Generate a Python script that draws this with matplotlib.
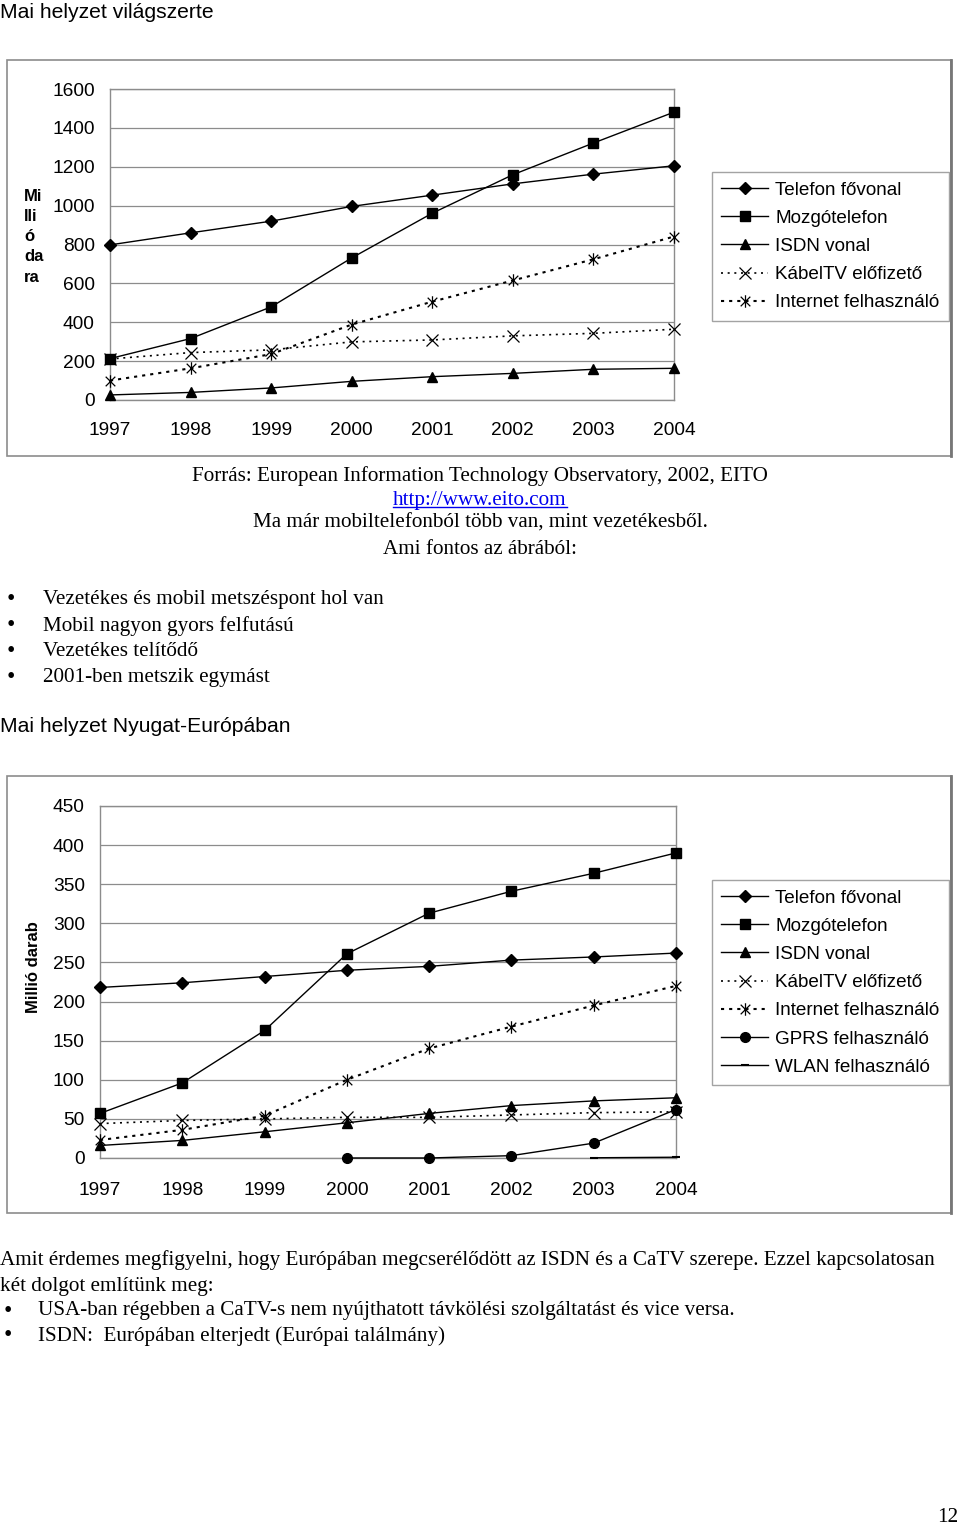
import matplotlib
matplotlib.use("Agg")
import matplotlib.pyplot as plt
import numpy as np
from matplotlib.path import Path
from matplotlib.patches import Rectangle
from matplotlib.lines import Line2D

W, H = 960, 1529
def fx(x): return x / W
def fy(y): return 1 - y / H

years = ["1997", "1998", "1999", "2000", "2001", "2002", "2003", "2004"]

# Chart 1 - world
w_telefon = [798, 860, 920, 996, 1054, 1112, 1162, 1205]
w_mobil = [213, 316, 479, 731, 961, 1159, 1322, 1481]
w_isdn = [26, 39, 62, 96, 120, 137, 158, 163]
w_kabel = [211, 244, 258, 299, 309, 330, 343, 364]
w_internet = [100, 163, 236, 388, 506, 615, 724, 841]

# Chart 2 - Western Europe
e_telefon = [218, 224, 232, 240, 245, 253, 257, 262]
e_mobil = [57, 96, 163, 261, 313, 341, 364, 390]
e_isdn = [16, 22.5, 33.5, 45, 57, 67, 73, 77]
e_kabel = [44, 48, 50, 52, 52, 55, 58, 59]
e_internet = [23, 36, 54, 100, 140, 168, 195, 220]
e_gprs = [np.nan, np.nan, np.nan, 0, 0, 3, 19, 62]
e_wlan = [np.nan, np.nan, np.nan, np.nan, np.nan, np.nan, 0.3, 1]

labels = ["Telefon fővonal", "Mozgótelefon", "ISDN vonal", "KábelTV előfizető",
          "Internet felhasználó", "GPRS felhasználó", "WLAN felhasználó"]

SANS = ["Liberation Sans", "DejaVu Sans"]
SERIF = ["Liberation Serif", "DejaVu Serif"]
GRAY = "#8c8c8c"
BODY = 15.2

ast = Path([(-1, -1), (1, 1), (-1, 1), (1, -1), (0, -1.3), (0, 1.3)],
           [Path.MOVETO, Path.LINETO, Path.MOVETO, Path.LINETO, Path.MOVETO, Path.LINETO])

fig = plt.figure(figsize=(W / 100, H / 100), dpi=100)
fig.patch.set_facecolor("white")

# frames
for (x0, y0, x1, y1) in [(7, 60, 951, 456), (7, 776, 951, 1213)]:
    fig.add_artist(Rectangle((fx(x0), fy(y1)), fx(x1) - fx(x0), fy(y0) - fy(y1),
                             transform=fig.transFigure, fill=False, edgecolor=GRAY, lw=1.2))
    fig.add_artist(Line2D([fx(x1), fx(x1)], [fy(y1), fy(y0)], transform=fig.transFigure,
                          color="#777777", lw=2.0))

def style_axes(ax, ymax, step, xpad):
    ax.set_xlim(0, 7)
    ax.set_ylim(0, ymax)
    ax.set_xticks(range(8))
    ax.set_xticklabels(years)
    ax.set_yticks(np.arange(0, ymax + 1, step))
    ax.set_yticklabels([str(int(v)) for v in np.arange(0, ymax + 1, step)])
    ax.tick_params(axis="both", length=0, labelsize=13.8)
    ax.tick_params(axis="x", pad=xpad)
    ax.tick_params(axis="y", pad=11)
    for lab in ax.get_xticklabels() + ax.get_yticklabels():
        lab.set_fontfamily(SANS)
    ax.grid(axis="y", color=GRAY, lw=0.9)
    ax.set_axisbelow(True)
    for s in ax.spines.values():
        s.set_color(GRAY)
        s.set_linewidth(1.0)

def draw_series(ax, data, extra=False):
    kw = dict(color="black", clip_on=False, zorder=5)
    hs = []
    hs += ax.plot(range(8), data[0], marker="D", ms=6.5, lw=1.0, **kw)
    hs += ax.plot(range(8), data[1], marker="s", ms=7, lw=1.0, **kw)
    hs += ax.plot(range(8), data[2], marker="^", ms=7.5, lw=1.0, **kw)
    hs += ax.plot(range(8), data[3], marker="x", ms=9, mew=0.9, lw=1.2,
                  ls=(0, (1.2, 2.8)), **kw)
    hs += ax.plot(range(8), data[4], marker=ast, ms=9, mew=0.9, lw=1.5,
                  ls=(0, (1.5, 2.4)), **kw)
    if extra:
        hs += ax.plot(range(8), data[5], marker="o", ms=7, lw=1.0, **kw)
        hs += ax.plot(range(8), data[6], marker="_", ms=6, mew=1.5, lw=1.0, **kw)
    return hs

def make_legend(hs, labs, top):
    leg = fig.legend(hs, labs, loc="upper left", bbox_to_anchor=(fx(712), fy(top)),
                     borderaxespad=0, frameon=True, fancybox=False, edgecolor=GRAY,
                     prop={"family": SANS, "size": 13.6}, handlelength=2.45,
                     handletextpad=0.4, labelspacing=0.58, borderpad=0.5, numpoints=1)
    leg.get_frame().set_linewidth(1.0)
    return leg

# Chart 1
ax1 = fig.add_axes([fx(110), fy(400), fx(674) - fx(110), fy(89) - fy(400)])
style_axes(ax1, 1600, 200, 16)
h1 = draw_series(ax1, [w_telefon, w_mobil, w_isdn, w_kabel, w_internet])
make_legend(h1, labels[:5], 172)

t = fig.text(fx(24), fy(189), "Mi\nlli\nó\nda\nra\nb", ha="left", va="top",
             fontsize=12, fontweight="bold", family=SANS, linespacing=1.43)
t.set_clip_path(Rectangle((fx(20), fy(290)), fx(40), fy(180) - fy(290),
                          transform=fig.transFigure))

# Chart 2
ax2 = fig.add_axes([fx(100), fy(1158), fx(676) - fx(100), fy(806) - fy(1158)])
style_axes(ax2, 450, 50, 17)
h2 = draw_series(ax2, [e_telefon, e_mobil, e_isdn, e_kabel, e_internet, e_gprs, e_wlan], extra=True)
make_legend(h2, labels, 880)
fig.text(fx(34), fy(967), "Millió darab", rotation=90, ha="center", va="center",
         fontsize=12, fontweight="bold", family=SANS)

# Text
fig.text(0, fy(12), "Mai helyzet világszerte", ha="left", va="center", fontsize=15.2, family=SANS)
fig.text(fx(480), fy(476), "Forrás: European Information Technology Observatory, 2002, EITO",
         ha="center", va="center", fontsize=BODY, family=SERIF)
link = fig.text(fx(480), fy(500), "http://www.eito.com", ha="center", va="center",
                fontsize=BODY, family=SERIF, color="#0000ee")
fig.text(fx(480), fy(523), "Ma már mobiltelefonból több van, mint vezetékesből.",
         ha="center", va="center", fontsize=BODY, family=SERIF)
fig.text(fx(480), fy(549), "Ami fontos az ábrából:", ha="center", va="center",
         fontsize=BODY, family=SERIF)

bul1 = ["Vezetékes és mobil metszéspont hol van", "Mobil nagyon gyors felfutású",
        "Vezetékes telítődő", "2001-ben metszik egymást"]
for i, s in enumerate(bul1):
    y = 600 + i * 26
    fig.text(fx(7), fy(y), "•", ha="left", va="center", fontsize=17, family=SERIF)
    fig.text(fx(43), fy(y), s, ha="left", va="center", fontsize=BODY, family=SERIF)

fig.text(0, fy(727), "Mai helyzet Nyugat-Európában", ha="left", va="center",
         fontsize=15.2, family=SANS)

fig.text(0, fy(1260), "Amit érdemes megfigyelni, hogy Európában megcserélődött az ISDN és a CaTV szerepe. Ezzel kapcsolatosan",
         ha="left", va="center", fontsize=BODY, family=SERIF)
fig.text(0, fy(1287), "két dolgot említünk meg:", ha="left", va="center", fontsize=BODY, family=SERIF)
bul2 = ["USA-ban régebben a CaTV-s nem nyújthatott távkölési szolgáltatást és vice versa.",
        "ISDN:  Európában elterjedt (Európai találmány)"]
for i, s in enumerate(bul2):
    y = 1311 + i * 25
    fig.text(fx(4), fy(y), "•", ha="left", va="center", fontsize=17, family=SERIF)
    fig.text(fx(38), fy(y), s, ha="left", va="center", fontsize=BODY, family=SERIF)

fig.text(fx(958), fy(1518), "12", ha="right", va="center", fontsize=BODY, family=SERIF)

# underline link
fig.canvas.draw()
bb = link.get_window_extent().transformed(fig.transFigure.inverted())
fig.add_artist(Line2D([bb.x0, bb.x1], [bb.y0 + 0.0015, bb.y0 + 0.0015],
                      transform=fig.transFigure, color="#0000ee", lw=1.0))

fig.savefig("out.png", dpi=100, facecolor="white")
